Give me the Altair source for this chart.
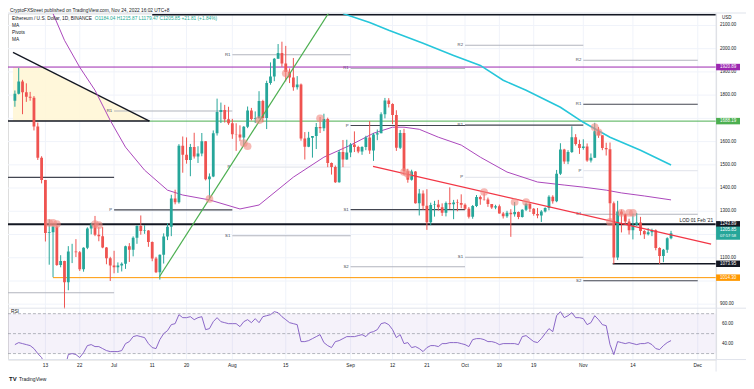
import altair as alt
import pandas as pd

# ---------------- candles (Ethereum / U.S. Dollar, 1D) ----------------
dates = [d.strftime("%Y-%m-%d") for d in pd.date_range("2022-06-05", "2022-11-24", freq="D")]

opens = [
    1776, 1806, 1859, 1812, 1793, 1789, 1665, 1530, 1435, 1207, 1210, 1234, 1069, 1086, 995, 1127, 1127, 1124, 1051, 1143, 1226, 1243, 1199, 1193, 1144, 1098,
    1067, 1059, 1067, 1074, 1150, 1134, 1186, 1237, 1215, 1217, 1168, 1097, 1038, 1113, 1191, 1233, 1355, 1339, 1582, 1543, 1521, 1577, 1536, 1549, 1601, 1438, 1450, 1636, 1727, 1736, 1696,
    1679, 1632, 1631, 1618, 1664, 1734, 1697, 1700, 1775, 1702, 1852, 1880, 1957, 1981, 1936, 1900, 1876, 1834, 1846, 1613, 1578, 1617, 1624, 1663, 1658, 1697, 1508, 1491, 1425, 1555, 1523,
    1553, 1587, 1577, 1557, 1577, 1618, 1562, 1631, 1636, 1718, 1777, 1762, 1715, 1573, 1637, 1472, 1436, 1471, 1335, 1377, 1324, 1253, 1327, 1329, 1317, 1294, 1336, 1330, 1338, 1336,
    1328, 1311, 1277, 1323, 1362, 1352, 1351, 1331, 1316, 1322, 1291, 1279, 1294, 1287, 1297, 1275, 1307, 1331, 1311, 1288, 1282, 1299, 1314, 1363, 1343, 1462, 1566, 1514, 1555, 1619, 1590,
    1572, 1579, 1519, 1531, 1645, 1627, 1572, 1567, 1335, 1101, 1299, 1287, 1256, 1218, 1242, 1252, 1215, 1201, 1210, 1218, 1142, 1108, 1134, 1184.04,
]
highs = [
    1820, 1917, 1866, 1851, 1814, 1796, 1682, 1537, 1435, 1265, 1240, 1240, 1111, 1087, 1150, 1160, 1180, 1129, 1145, 1231, 1251, 1280, 1232, 1232, 1146, 1104,
    1130, 1080, 1080, 1152, 1163, 1192, 1240, 1282, 1240, 1219, 1170, 1104, 1114, 1205, 1248, 1371, 1393, 1589, 1622, 1618, 1590, 1638, 1580, 1637, 1602, 1463, 1648, 1785, 1768, 1758, 1750,
    1698, 1679, 1670, 1667, 1751, 1745, 1730, 1817, 1780, 1862, 1941, 1960, 2020, 2030, 2012, 1915, 1960, 1882, 1850, 1641, 1642, 1624, 1680, 1706, 1720, 1703, 1510, 1497, 1564, 1607, 1608,
    1594, 1644, 1582, 1580, 1625, 1688, 1637, 1652, 1726, 1788, 1787, 1765, 1735, 1650, 1655, 1483, 1479, 1473, 1396, 1390, 1395, 1337, 1345, 1349, 1334, 1342, 1403, 1349, 1351, 1373,
    1334, 1318, 1327, 1370, 1368, 1378, 1359, 1331, 1328, 1329, 1297, 1302, 1309, 1340, 1299, 1309, 1338, 1340, 1314, 1314, 1305, 1317, 1369, 1369, 1478, 1593, 1569, 1563, 1666, 1632, 1608,
    1610, 1592, 1549, 1681, 1663, 1627, 1595, 1596, 1342, 1345, 1307, 1290, 1268, 1290, 1293, 1276, 1219, 1228, 1225, 1222, 1145, 1138, 1188, 1215.87,
]
lows = [
    1750, 1803, 1718, 1771, 1776, 1648, 1521, 1420, 1170, 1070, 1016, 1065, 1059, 880, 960, 1077, 1103, 1043, 1040, 1137, 1201, 1193, 1171, 1141, 1072, 1000,
    1033, 1035, 1041, 1052, 1082, 1106, 1160, 1199, 1203, 1147, 1085, 1034, 1006, 1075, 1176, 1193, 1330, 1333, 1466, 1505, 1451, 1527, 1508, 1537, 1433, 1355, 1447, 1626, 1680, 1682, 1672,
    1612, 1560, 1602, 1583, 1658, 1691, 1680, 1699, 1683, 1654, 1845, 1860, 1957, 1922, 1859, 1852, 1819, 1824, 1604, 1523, 1576, 1531, 1568, 1637, 1645, 1490, 1458, 1422, 1423, 1490, 1522,
    1533, 1555, 1550, 1543, 1563, 1547, 1517, 1606, 1636, 1700, 1747, 1675, 1560, 1568, 1456, 1423, 1432, 1333, 1282, 1307, 1220, 1240, 1277, 1303, 1280, 1278, 1310, 1266, 1300, 1313,
    1306, 1269, 1268, 1318, 1328, 1346, 1319, 1310, 1309, 1290, 1269, 1272, 1190, 1277, 1266, 1273, 1301, 1297, 1281, 1270, 1254, 1295, 1304, 1333, 1339, 1456, 1504, 1503, 1551, 1583, 1547,
    1565, 1513, 1510, 1530, 1616, 1563, 1540, 1260, 1073.5, 1090, 1209, 1244, 1200, 1179, 1237, 1197, 1181, 1196, 1193, 1132, 1073, 1081, 1121, 1179.47,
]
closes = [
    1806, 1859, 1812, 1793, 1789, 1665, 1530, 1435, 1207, 1210, 1234, 1069, 1086, 995, 1127, 1127, 1124, 1051, 1143, 1226, 1243, 1199, 1193, 1144, 1098, 1067,
    1059, 1067, 1074, 1150, 1134, 1186, 1237, 1215, 1217, 1168, 1097, 1038, 1113, 1191, 1233, 1355, 1339, 1582, 1543, 1521, 1577, 1536, 1549, 1601, 1438, 1450, 1636, 1727, 1736, 1696, 1679,
    1632, 1631, 1618, 1664, 1734, 1697, 1700, 1775, 1702, 1852, 1880, 1957, 1981, 1936, 1900, 1876, 1834, 1846, 1613, 1578, 1617, 1624, 1663, 1658, 1697, 1508, 1491, 1425, 1555, 1523, 1553,
    1587, 1577, 1557, 1577, 1618, 1562, 1631, 1636, 1718, 1777, 1762, 1715, 1573, 1637, 1472, 1436, 1471, 1335, 1377, 1324, 1253, 1327, 1329, 1317, 1294, 1336, 1330, 1338, 1336, 1328,
    1311, 1277, 1323, 1362, 1352, 1351, 1331, 1316, 1322, 1291, 1279, 1294, 1287, 1297, 1275, 1307, 1331, 1311, 1288, 1282, 1299, 1314, 1363, 1343, 1462, 1566, 1514, 1555, 1619, 1590, 1572,
    1579, 1519, 1531, 1645, 1627, 1572, 1567, 1335, 1101, 1299, 1287, 1256, 1218, 1242, 1252, 1215, 1201, 1210, 1218, 1142, 1108, 1134, 1184, 1205.85,
]

# RSI(14), one value per candle
rsi = [
    39, 41, 40, 39, 38, 35, 30, 26, 18, 19,
    21, 17, 19, 14, 29, 30, 29, 26, 31, 38,
    39, 37, 37, 35, 33, 32, 32, 32, 33, 40,
    42, 47, 48, 47, 46, 40, 36, 35, 44, 50,
    53, 59, 60, 69, 66, 66, 67, 64, 66, 67,
    54, 55, 62, 66, 62, 61, 60, 60, 60, 57,
    62, 64, 61, 65, 61, 67, 68, 69, 72, 71,
    67, 64, 61, 60, 59, 42, 42, 43, 45, 47,
    49, 41, 38, 36, 42, 43, 45, 47, 47, 47,
    48, 49, 47, 51, 52, 54, 60, 61, 59, 54,
    46, 49, 40, 41, 36, 37, 35, 32, 36, 38,
    38, 37, 40, 40, 41, 41, 41, 40, 39, 37,
    44, 45, 45, 44, 42, 42, 41, 39, 40, 40,
    40, 40, 39, 47, 48, 45, 42, 41, 45, 50,
    55, 52, 68, 72, 66, 68, 71, 66, 66, 65,
    59, 61, 68, 64, 59, 58, 39, 29, 42, 41,
    40, 41, 40, 39, 40, 40, 41, 39, 35, 34,
    38, 41, 43,
]

# moving averages
ma_purple_dates = ["2022-06-15", "2022-06-18", "2022-06-22", "2022-06-26", "2022-06-30", "2022-07-04", "2022-07-09",
                   "2022-07-15", "2022-07-19", "2022-07-26", "2022-08-03", "2022-08-08", "2022-08-17", "2022-08-25",
                   "2022-09-01", "2022-09-07", "2022-09-12", "2022-09-15", "2022-09-19", "2022-09-24", "2022-09-30",
                   "2022-10-05", "2022-10-12", "2022-10-20", "2022-10-27", "2022-11-01", "2022-11-07", "2022-11-11",
                   "2022-11-17", "2022-11-24"]
ma_purple = [2151, 2036, 1920, 1821, 1691, 1576, 1477, 1391, 1370, 1349, 1310, 1327, 1447, 1533, 1585, 1636, 1662,
             1662, 1653, 1619, 1585, 1533, 1469, 1426, 1413, 1404, 1391, 1379, 1366, 1349]
ma_cyan_dates = ["2022-08-30", "2022-09-06", "2022-09-11", "2022-09-20", "2022-09-28", "2022-10-05", "2022-10-11",
                 "2022-10-17", "2022-10-26", "2022-11-01", "2022-11-08", "2022-11-16", "2022-11-24"]
ma_cyan = [2151, 2113, 2079, 2023, 1971, 1928, 1864, 1821, 1748, 1683, 1619, 1563, 1499]

# monthly pivot points
piv_start = ["2022-06-01"] * 2 + ["2022-07-01"] * 2 + ["2022-08-01"] * 3 + ["2022-09-01"] * 4 + ["2022-10-01"] * 4 + ["2022-11-01"] * 5
piv_end = ["2022-07-01"] * 2 + ["2022-08-01"] * 2 + ["2022-09-01"] * 3 + ["2022-10-01"] * 4 + ["2022-11-01"] * 4 + ["2022-12-01"] * 5
piv_name = ["S1", "S2", "R1", "P", "R1", "P", "S1", "R1", "P", "S1", "S2", "R2", "R1", "P", "S1", "R2", "R1", "P", "S1", "S2"]
piv_price = [1446, 949, 1732, 1306, 1974, 1490, 1195, 1915, 1669, 1307, 1061, 2015, 1671, 1446, 1102, 1950, 1761, 1475, 1287, 1001]
piv_tone = ["dark", "light", "light", "dark", "light", "faint", "light", "light", "dark", "dark", "light",
            "light", "dark", "faint", "light", "light", "dark", "faint", "light", "dark"]

# drawn levels
top_level = 2146
purple_level = 1920.89
green_level = 1688.19
lod_level = 1243.89
low_level = 1073.95
orange_level = 1014.30
last_price = 1205.85

# trend lines
black_tl_dates = ["2022-06-04T12:00:00Z", "2022-07-10T07:00:00Z"]
black_tl = [1984, 1688.19]
shade_dates = ["2022-06-04T12:00:00Z", "2022-06-12T00:00:00Z", "2022-07-10T07:00:00Z"]
shade_top = [1920.89, 1920.89, 1688.19]
green_tl_dates = ["2022-07-12T21:00:00Z", "2022-08-26T12:00:00Z"]
green_tl = [1018, 2160]
red_tl_dates = ["2022-09-06T21:00:00Z", "2022-12-04T12:00:00Z"]
red_tl = [1493, 1159]

# highlight circles
circle_dates = ["2022-06-14", "2022-06-15", "2022-06-16", "2022-06-26", "2022-06-27", "2022-07-26", "2022-08-04",
                "2022-08-05", "2022-08-08", "2022-08-15", "2022-08-24", "2022-09-15", "2022-09-16", "2022-10-06",
                "2022-10-14", "2022-10-17", "2022-11-04", "2022-11-05", "2022-11-08", "2022-11-11", "2022-11-13",
                "2022-11-14"]
circle_price = [1250, 1250, 1245, 1245, 1240, 1353, 1593, 1580, 1692, 1894, 1700, 1469, 1460, 1383, 1340, 1340,
                1662, 1640, 1254, 1293, 1293, 1293]

# axes
x_tick_dates = ["2022-06-13", "2022-06-22", "2022-07-01", "2022-07-11", "2022-07-20", "2022-08-01", "2022-08-15",
                "2022-09-01", "2022-09-12", "2022-09-21", "2022-10-01", "2022-10-10", "2022-10-19", "2022-11-01",
                "2022-11-14", "2022-12-01"]
x_tick_labels = ["13", "22", "Jul", "11", "20", "Aug", "15", "Sep", "12", "21", "Oct", "10", "19", "Nov", "14", "Dec"]
price_ticks = [900, 1000, 1100, 1200, 1300, 1400, 1500, 1600, 1700, 1800, 1900, 2000, 2100]
price_tick_labels = [900, 1100, 1300, 1400, 1500, 1600, 1800, 1900, 2000, 2100]  # the others sit under price tags
rsi_ticks = [60, 40]
rsi_lines = [70, 50, 30]

# ---------------- styling ----------------
W, H = 710, 347
GREEN, RED = "#26a69a", "#ef5350"
TXT = "#131722"
FS = 4.8

XS = alt.Scale(type="utc", domain=[alt.DateTime(year=2022, month=6, date=4, hours=12, utc=True),
                                   alt.DateTime(year=2022, month=12, date=4, hours=12, utc=True)])
PS = alt.Scale(domain=[661.7, 2151.5], nice=False, zero=False)
RS = alt.Scale(domain=[24, 371], nice=False, zero=False)


def X(f="date"):
    return alt.X(f"{f}:T", scale=XS, axis=None)


def Y(f="price", s=PS):
    return alt.Y(f"{f}:Q", scale=s, axis=None)


candles = pd.DataFrame({"date": dates, "open": opens, "high": highs, "low": lows, "close": closes})
candles["dir"] = ["up" if c >= o else "down" for o, c in zip(opens, closes)]
dir_color = alt.Color("dir:N", scale=alt.Scale(domain=["up", "down"], range=[GREEN, RED]), legend=None)

layers = []

# grid
layers.append(alt.Chart(pd.DataFrame({"price": price_ticks})).mark_rule(color="#f0f3fa", strokeWidth=1).encode(
    y=Y(), x=alt.value(0), x2=alt.value(W)))
layers.append(alt.Chart(pd.DataFrame({"date": x_tick_dates})).mark_rule(color="#f0f3fa", strokeWidth=1).encode(
    x=X(), y=alt.value(0), y2=alt.value(H)))

# shaded triangle
layers.append(alt.Chart(pd.DataFrame({"date": shade_dates, "price": shade_top, "base": [green_level] * 3}))
              .mark_area(color="#fff6d6", opacity=0.9, clip=True).encode(x=X(), y=Y(), y2="base:Q"))

# pivots
piv = pd.DataFrame({"start": piv_start, "end": piv_end, "name": piv_name, "price": piv_price, "tone": piv_tone})
tone_color = alt.Color("tone:N", scale=alt.Scale(domain=["dark", "light", "faint"],
                                                 range=["#434651", "#b2b5be", "#e6e8ee"]), legend=None)
layers.append(alt.Chart(piv).mark_rule(strokeWidth=1.1, clip=True).encode(
    x=X("start"), x2="end:T", y=Y(), color=tone_color))
layers.append(alt.Chart(piv[piv["start"] >= "2022-07-01"]).mark_text(
    align="right", baseline="middle", dx=-2, fontSize=4.3, color="#434651").encode(
    x=X("start"), y=Y(), text="name:N"))

# horizontal levels
def level(start, end, price, color, width):
    return alt.Chart(pd.DataFrame({"start": [start], "end": [end], "price": [price]})).mark_rule(
        color=color, strokeWidth=width, clip=True).encode(x=X("start"), x2="end:T", y=Y())


layers.append(level("2022-07-11", "2022-12-06", top_level, TXT, 1.5))
layers.append(level("2022-06-01", "2022-12-06", purple_level, "#9c27b0", 1))
layers.append(level("2022-06-01", "2022-07-10T07:00:00Z", green_level, TXT, 1.5))
layers.append(level("2022-07-10T07:00:00Z", "2022-12-06", green_level, "#4caf50", 1))
layers.append(level("2022-06-01", "2022-12-06", lod_level, TXT, 2))
layers.append(level("2022-11-08T17:00:00Z", "2022-12-06", low_level, TXT, 1.5))
layers.append(level("2022-06-15", "2022-12-06", orange_level, "#ff9800", 1))

# trend lines
def tline(d, p, color, width):
    return alt.Chart(pd.DataFrame({"date": d, "price": p})).mark_line(
        color=color, strokeWidth=width, clip=True).encode(x=X(), y=Y())


layers.append(tline(black_tl_dates, black_tl, TXT, 1.3))
layers.append(tline(ma_purple_dates, ma_purple, "#ab47bc", 1))
layers.append(tline(ma_cyan_dates, ma_cyan, "#26c6da", 1.6))

# candles
layers.append(alt.Chart(candles).mark_rule(strokeWidth=1, clip=True).encode(
    x=X(), y=Y("low"), y2="high:Q", color=dir_color))
layers.append(alt.Chart(candles).mark_bar(size=2.8, clip=True).encode(
    x=X(), y=Y("open"), y2="close:Q", color=dir_color))

layers.append(tline(green_tl_dates, green_tl, "#4caf50", 1.2))
layers.append(tline(red_tl_dates, red_tl, "#f23645", 1.3))

# highlight circles
layers.append(alt.Chart(pd.DataFrame({"date": circle_dates, "price": circle_price})).mark_circle(
    size=60, color="#f28b82", opacity=0.6).encode(x=X(), y=Y()))

# LOD label
layers.append(alt.Chart(pd.DataFrame({"price": [lod_level], "t": ["LOD 01 Feb '21"]})).mark_text(
    align="right", baseline="bottom", dy=-1.5, fontSize=4.8, color=TXT).encode(
    x=alt.value(707), y=Y(), text="t:N"))

# ---------- RSI pane ----------
layers.append(alt.Chart(pd.DataFrame({"hi": [70], "lo": [30]})).mark_rect(color="#7e57c2", opacity=0.08).encode(
    x=alt.value(0), x2=alt.value(W), y=Y("hi", RS), y2="lo:Q"))
layers.append(alt.Chart(pd.DataFrame({"v": rsi_lines})).mark_rule(
    color="#9598a1", strokeWidth=0.7, strokeDash=[3, 2]).encode(x=alt.value(0), x2=alt.value(W), y=Y("v", RS)))
layers.append(alt.Chart(pd.DataFrame({"date": dates, "v": rsi})).mark_line(
    color="#7e57c2", strokeWidth=0.9, clip=True).encode(x=X(), y=Y("v", RS)))
layers.append(alt.Chart(pd.DataFrame({"v": [75.5]})).mark_rule(color="#e0e3eb", strokeWidth=1).encode(
    x=alt.value(0), x2=alt.value(W + 30), y=Y("v", RS)))
layers.append(alt.Chart(pd.DataFrame({"t": ["RSI"]})).mark_text(
    align="left", baseline="middle", fontSize=FS, color=TXT).encode(text="t:N", x=alt.value(3), y=alt.value(299.5)))

# frame lines
layers.append(alt.Chart(pd.DataFrame({"a": [0]})).mark_rule(color="#e0e3eb", strokeWidth=1).encode(
    x=alt.value(0), x2=alt.value(W + 30), y=alt.value(H)))
layers.append(alt.Chart(pd.DataFrame({"a": [0]})).mark_rule(color="#e0e3eb", strokeWidth=1).encode(
    x=alt.value(0), x2=alt.value(W + 30), y=alt.value(-0.5)))
layers.append(alt.Chart(pd.DataFrame({"a": [0]})).mark_rule(color="#e0e3eb", strokeWidth=1).encode(
    x=alt.value(W), y=alt.value(0), y2=alt.value(H + 12)))

# ---------- right price scale ----------
layers.append(alt.Chart(pd.DataFrame({"price": price_tick_labels,
                                      "t": [f"{p:.2f}" for p in price_tick_labels]})).mark_text(
    align="left", baseline="middle", fontSize=4.5, color=TXT).encode(x=alt.value(714), y=Y(), text="t:N"))
layers.append(alt.Chart(pd.DataFrame({"v": rsi_ticks, "t": [f"{v:.2f}" for v in rsi_ticks]})).mark_text(
    align="left", baseline="middle", fontSize=4.5, color=TXT).encode(x=alt.value(716), y=Y("v", RS), text="t:N"))
layers.append(alt.Chart(pd.DataFrame({"t": ["USD"]})).mark_text(
    align="left", baseline="middle", fontSize=4.5, color=TXT).encode(x=alt.value(716), y=alt.value(5), text="t:N"))

box_names = ["purple", "green", "lod", "low", "orange"]
box_prices = [purple_level, green_level, lod_level, low_level, orange_level]
box_df = pd.DataFrame({"name": box_names, "price": box_prices, "t": [f"{p:.2f}" for p in box_prices]})
box_color = alt.Color("name:N", scale=alt.Scale(domain=box_names,
                                                range=["#9c27b0", "#4caf50", TXT, TXT, "#ff9800"]), legend=None)
layers.append(alt.Chart(box_df).mark_point(
    shape="M-1,-0.27L1,-0.27L1,0.27L-1,0.27Z", size=576, filled=True, opacity=1).encode(
    x=alt.value(722), y=Y(), color=box_color))
layers.append(alt.Chart(box_df).mark_text(fontSize=4.5, color="white", baseline="middle").encode(
    x=alt.value(722), y=Y(), text="t:N"))

last_df = pd.DataFrame({"price": [last_price], "t": [f"{last_price:.2f}"], "c": ["07:57:58"]})
layers.append(alt.Chart(last_df).mark_point(
    shape="M-1,-0.55L1,-0.55L1,0.55L-1,0.55Z", size=576, filled=True, opacity=1, color=GREEN).encode(
    x=alt.value(722), y=Y()))
layers.append(alt.Chart(last_df).mark_text(fontSize=4.5, color="white", baseline="middle", dy=-3).encode(
    x=alt.value(722), y=Y(), text="t:N"))
layers.append(alt.Chart(last_df).mark_text(fontSize=4.2, color="white", baseline="middle", dy=3).encode(
    x=alt.value(722), y=Y(), text="c:N"))

# ---------- time axis ----------
layers.append(alt.Chart(pd.DataFrame({"date": x_tick_dates, "t": x_tick_labels})).mark_text(
    fontSize=4.8, color=TXT, baseline="middle").encode(x=X(), y=alt.value(H + 6), text="t:N"))

# ---------- header texts ----------
last_o, last_h, last_l, last_c = opens[-1], highs[-1], lows[-1], closes[-1]
header = [
    (2, -2.5, "CryptoFXStreet published on TradingView.com, Nov 24, 2022 16:02 UTC+8", TXT),
    (4, 5.3, "Ethereum / U.S. Dollar, 1D, BINANCE", TXT),
    (87, 5.3, f"O{last_o:.2f} H{last_h:.2f} L{last_l:.2f} C{last_c:.2f} +21.81 (+1.84%)", "#22ab94"),
    (4, 12.3, "MA", TXT),
    (4, 19.5, "Pivots", TXT),
    (4, 26.7, "MA", TXT),
]
for hx, hy, ht, hc in header:
    layers.append(alt.Chart(pd.DataFrame({"t": [ht]})).mark_text(
        align="left", baseline="middle", fontSize=FS, color=hc).encode(
        text="t:N", x=alt.value(hx), y=alt.value(hy)))

layers.append(alt.Chart(pd.DataFrame({"t": ["TV"]})).mark_text(
    align="left", baseline="middle", fontSize=6, fontWeight="bold", color=TXT).encode(
    text="t:N", x=alt.value(1), y=alt.value(H + 19)))
layers.append(alt.Chart(pd.DataFrame({"t": ["TradingView"]})).mark_text(
    align="left", baseline="middle", fontSize=5, color=TXT).encode(
    text="t:N", x=alt.value(11), y=alt.value(H + 19)))

chart = alt.layer(*layers).resolve_scale(y="independent", color="independent").properties(
    width=W, height=H,
    autosize=alt.AutoSizeParams(type="none"),
    padding={"left": 0, "top": 5, "right": 30, "bottom": 24},
).configure_view(stroke=None).configure(font="Liberation Sans")

chart.save("out.html", embed_options={"renderer": "svg", "actions": False})
